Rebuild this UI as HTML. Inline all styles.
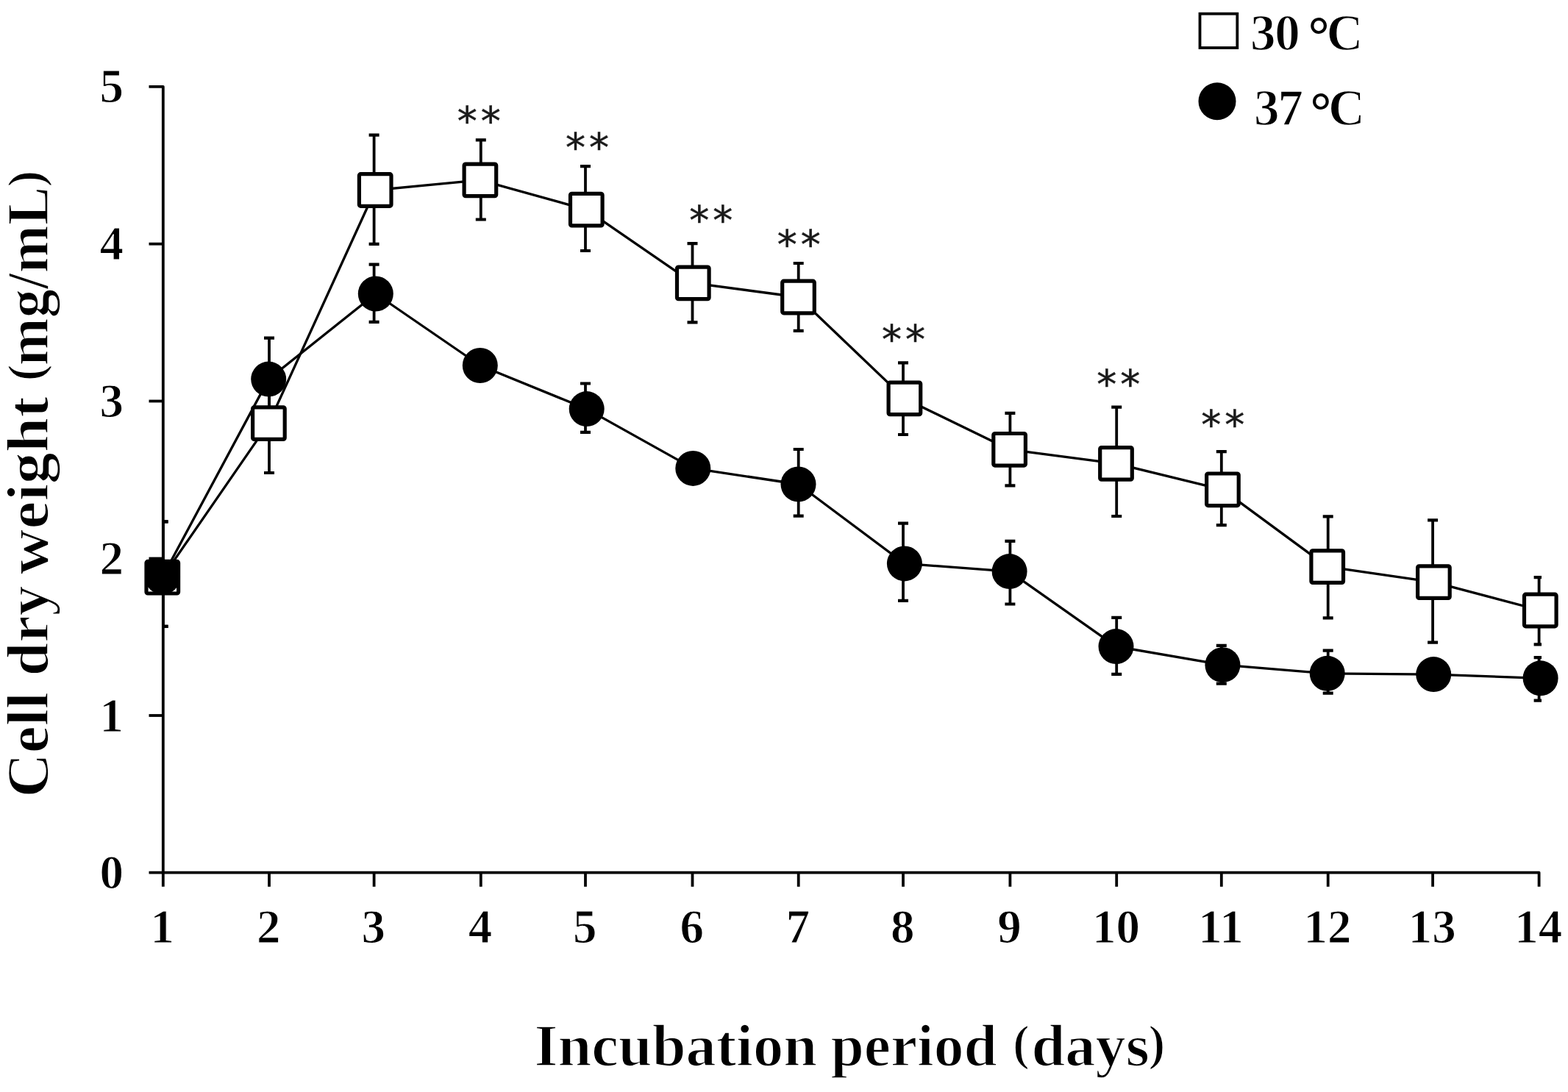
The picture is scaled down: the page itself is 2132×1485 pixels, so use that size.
<!DOCTYPE html>
<html><head><meta charset="utf-8"><title>Cell dry weight vs incubation period</title>
<style>html,body{margin:0;padding:0;background:#fff;}svg{display:block;}.t{font-family:"Liberation Serif",serif;font-weight:bold;fill:#000;}.lg{stroke:#fff;stroke-width:1.4px;}.ti{stroke:#fff;stroke-width:1.6px;}.tk{stroke:#fff;stroke-width:1.1px;}.dg{stroke:none;font-size:72px;}.s{font-family:"DejaVu Sans",sans-serif;fill:#1a1a1a;stroke:#1a1a1a;stroke-width:0.5px;}</style></head><body>
<svg width="2132" height="1485" viewBox="0 0 2132 1485">
<rect x="0" y="0" width="2132" height="1485" fill="#fff"/>
<g stroke="#000" stroke-width="3.8" fill="none" stroke-linecap="butt" stroke-linejoin="round">
<path d="M202.5 117.8 H221.8 V1205.8"/>
<path d="M202.5 973 H221.8"/>
<path d="M202.5 759.5 H221.8"/>
<path d="M202.5 545.5 H221.8"/>
<path d="M202.5 331.7 H221.8"/>
<path d="M202.5 1186.6 H2092.6 V1205.8"/>
<path d="M366 1186.6 V1205.8"/>
<path d="M508.6 1186.6 V1205.8"/>
<path d="M653.8 1186.6 V1205.8"/>
<path d="M796 1186.6 V1205.8"/>
<path d="M941.5 1186.6 V1205.8"/>
<path d="M1085.7 1186.6 V1205.8"/>
<path d="M1228 1186.6 V1205.8"/>
<path d="M1373.4 1186.6 V1205.8"/>
<path d="M1518.2 1186.6 V1205.8"/>
<path d="M1660.8 1186.6 V1205.8"/>
<path d="M1805.7 1186.6 V1205.8"/>
<path d="M1948.1 1186.6 V1205.8"/>
</g>
<g stroke="#000" stroke-width="3.3" fill="none" stroke-linejoin="round">
<path d="M220.8 785.2 L365.4 575.6 L510.2 258.5 L652.9 244.9 L797.3 285.1 L942.3 384.9 L1085.5 404 L1229.9 541.9 L1372.6 611.3 L1517.5 630.4 L1662.4 665.8 L1804.7 770.6 L1949.4 791.6 L2094.3 830"/>
<path d="M221 784.5 L365.2 515.6 L510.8 399.5 L652.8 497 L797.7 556.1 L942.3 636.9 L1085.5 658.5 L1229.9 766.4 L1372.6 777.1 L1517.5 879.1 L1662.4 904.2 L1804.7 915.8 L1949.2 917.1 L2094.6 922.3"/>
</g>
<defs><clipPath id="pa"><rect x="220.5" y="0" width="1875.5" height="1186"/></clipPath></defs>
<g clip-path="url(#pa)" stroke="#000" fill="none">
<path d="M221.6 709.4 V851.8" stroke-width="3.8"/>
<path d="M214.6 709.4 h14 M214.6 851.8 h14" stroke-width="4.2"/>
<path d="M366 508.2 V643" stroke-width="3.8"/>
<path d="M359 508.2 h14 M359 643 h14" stroke-width="4.2"/>
<path d="M508.6 183.6 V331.9" stroke-width="3.8"/>
<path d="M501.6 183.6 h14 M501.6 331.9 h14" stroke-width="4.2"/>
<path d="M653.8 190.4 V298.5" stroke-width="3.8"/>
<path d="M646.8 190.4 h14 M646.8 298.5 h14" stroke-width="4.2"/>
<path d="M796 226.2 V341" stroke-width="3.8"/>
<path d="M789 226.2 h14 M789 341 h14" stroke-width="4.2"/>
<path d="M941.5 331.2 V438.3" stroke-width="3.8"/>
<path d="M934.5 331.2 h14 M934.5 438.3 h14" stroke-width="4.2"/>
<path d="M1085.7 358 V449.9" stroke-width="3.8"/>
<path d="M1078.7 358 h14 M1078.7 449.9 h14" stroke-width="4.2"/>
<path d="M1228 493.4 V591" stroke-width="3.8"/>
<path d="M1221 493.4 h14 M1221 591 h14" stroke-width="4.2"/>
<path d="M1373.4 561.8 V660.3" stroke-width="3.8"/>
<path d="M1366.4 561.8 h14 M1366.4 660.3 h14" stroke-width="4.2"/>
<path d="M1518.2 553.7 V702" stroke-width="3.8"/>
<path d="M1511.2 553.7 h14 M1511.2 702 h14" stroke-width="4.2"/>
<path d="M1660.8 614.1 V714.1" stroke-width="3.8"/>
<path d="M1653.8 614.1 h14 M1653.8 714.1 h14" stroke-width="4.2"/>
<path d="M1805.7 702.3 V840.4" stroke-width="3.8"/>
<path d="M1798.7 702.3 h14 M1798.7 840.4 h14" stroke-width="4.2"/>
<path d="M1948.1 707.3 V873.6" stroke-width="3.8"/>
<path d="M1941.1 707.3 h14 M1941.1 873.6 h14" stroke-width="4.2"/>
<path d="M2092.6 785.2 V876.4" stroke-width="3.8"/>
<path d="M2085.6 785.2 h14 M2085.6 876.4 h14" stroke-width="4.2"/>
<path d="M221.6 709.4 V851.8" stroke-width="3.8"/>
<path d="M214.6 709.4 h14 M214.6 851.8 h14" stroke-width="4.2"/>
<path d="M366 459.7 V571.5" stroke-width="3.8"/>
<path d="M359 459.7 h14 M359 571.5 h14" stroke-width="4.2"/>
<path d="M508.6 359.6 V437.9" stroke-width="3.8"/>
<path d="M501.6 359.6 h14 M501.6 437.9 h14" stroke-width="4.2"/>
<path d="M653.8 480 V514" stroke-width="3.8"/>
<path d="M646.8 480 h14 M646.8 514 h14" stroke-width="4.2"/>
<path d="M796 521.5 V587.8" stroke-width="3.8"/>
<path d="M789 521.5 h14 M789 587.8 h14" stroke-width="4.2"/>
<path d="M941.5 620 V654" stroke-width="3.8"/>
<path d="M934.5 620 h14 M934.5 654 h14" stroke-width="4.2"/>
<path d="M1085.7 611 V701.6" stroke-width="3.8"/>
<path d="M1078.7 611 h14 M1078.7 701.6 h14" stroke-width="4.2"/>
<path d="M1228 711.7 V816.9" stroke-width="3.8"/>
<path d="M1221 711.7 h14 M1221 816.9 h14" stroke-width="4.2"/>
<path d="M1373.4 735.8 V821.5" stroke-width="3.8"/>
<path d="M1366.4 735.8 h14 M1366.4 821.5 h14" stroke-width="4.2"/>
<path d="M1518.2 839.8 V916.9" stroke-width="3.8"/>
<path d="M1511.2 839.8 h14 M1511.2 916.9 h14" stroke-width="4.2"/>
<path d="M1660.8 877.8 V929.7" stroke-width="3.8"/>
<path d="M1653.8 877.8 h14 M1653.8 929.7 h14" stroke-width="4.2"/>
<path d="M1805.7 884.7 V942.6" stroke-width="3.8"/>
<path d="M1798.7 884.7 h14 M1798.7 942.6 h14" stroke-width="4.2"/>
<path d="M1948.1 900 V934" stroke-width="3.8"/>
<path d="M1941.1 900 h14 M1941.1 934 h14" stroke-width="4.2"/>
<path d="M2092.6 894.2 V952.7" stroke-width="3.8"/>
<path d="M2085.6 894.2 h14 M2085.6 952.7 h14" stroke-width="4.2"/>
</g>
<g stroke="#000" stroke-width="5.2" fill="#fff" stroke-linejoin="round">
<rect x="199" y="763.4" width="43.6" height="43.6" rx="2"/>
<rect x="343.6" y="553.8" width="43.6" height="43.6" rx="2"/>
<rect x="488.4" y="236.7" width="43.6" height="43.6" rx="2"/>
<rect x="631.1" y="223.1" width="43.6" height="43.6" rx="2"/>
<rect x="775.5" y="263.3" width="43.6" height="43.6" rx="2"/>
<rect x="920.5" y="363.1" width="43.6" height="43.6" rx="2"/>
<rect x="1063.7" y="382.2" width="43.6" height="43.6" rx="2"/>
<rect x="1208.1" y="520.1" width="43.6" height="43.6" rx="2"/>
<rect x="1350.8" y="589.5" width="43.6" height="43.6" rx="2"/>
<rect x="1495.7" y="608.6" width="43.6" height="43.6" rx="2"/>
<rect x="1640.6" y="644" width="43.6" height="43.6" rx="2"/>
<rect x="1782.9" y="748.8" width="43.6" height="43.6" rx="2"/>
<rect x="1927.6" y="769.8" width="43.6" height="43.6" rx="2"/>
<rect x="2072.5" y="808.2" width="43.6" height="43.6" rx="2"/>
</g>
<rect x="199" y="763.4" width="43.6" height="22" fill="#000"/>
<g fill="#000">
<circle cx="221" cy="784.5" r="24"/>
<circle cx="365.2" cy="515.6" r="24"/>
<circle cx="510.8" cy="399.5" r="24"/>
<circle cx="652.8" cy="497" r="24"/>
<circle cx="797.7" cy="556.1" r="24"/>
<circle cx="942.3" cy="636.9" r="24"/>
<circle cx="1085.5" cy="658.5" r="24"/>
<circle cx="1229.9" cy="766.4" r="24"/>
<circle cx="1372.6" cy="777.1" r="24"/>
<circle cx="1517.5" cy="879.1" r="24"/>
<circle cx="1662.4" cy="904.2" r="24"/>
<circle cx="1804.7" cy="915.8" r="24"/>
<circle cx="1949.2" cy="917.1" r="24"/>
<circle cx="2094.6" cy="922.3" r="24"/>
</g>
<text class="s" x="621.8" y="182.5" font-size="54" letter-spacing="5">**</text>
<text class="s" x="769" y="218.7" font-size="54" letter-spacing="5">**</text>
<text class="s" x="937.3" y="317.8" font-size="54" letter-spacing="5">**</text>
<text class="s" x="1056.7" y="351.4" font-size="54" letter-spacing="5">**</text>
<text class="s" x="1199" y="480" font-size="54" letter-spacing="5">**</text>
<text class="s" x="1491.3" y="541.2" font-size="54" letter-spacing="5">**</text>
<text class="s" x="1633.2" y="596.2" font-size="54" letter-spacing="5">**</text>
<text class="t tk" x="168" y="1208.2" font-size="65" text-anchor="end">0</text>
<text class="t tk" x="168" y="994.6" font-size="65" text-anchor="end">1</text>
<text class="t tk" x="168" y="781.1" font-size="65" text-anchor="end">2</text>
<text class="t tk" x="168" y="567.1" font-size="65" text-anchor="end">3</text>
<text class="t tk" x="168" y="353.3" font-size="65" text-anchor="end">4</text>
<text class="t tk" x="168" y="139.4" font-size="65" text-anchor="end">5</text>
<text class="t tk" x="220.8" y="1282.3" font-size="65" text-anchor="middle">1</text>
<text class="t tk" x="365.2" y="1282.3" font-size="65" text-anchor="middle">2</text>
<text class="t tk" x="507.8" y="1282.3" font-size="65" text-anchor="middle">3</text>
<text class="t tk" x="653" y="1282.3" font-size="65" text-anchor="middle">4</text>
<text class="t tk" x="795.2" y="1282.3" font-size="65" text-anchor="middle">5</text>
<text class="t tk" x="940.7" y="1282.3" font-size="65" text-anchor="middle">6</text>
<text class="t tk" x="1084.9" y="1282.3" font-size="65" text-anchor="middle">7</text>
<text class="t tk" x="1227.2" y="1282.3" font-size="65" text-anchor="middle">8</text>
<text class="t tk" x="1372.6" y="1282.3" font-size="65" text-anchor="middle">9</text>
<text class="t tk" x="1517.4" y="1282.3" font-size="65" text-anchor="middle">10</text>
<text class="t tk" x="1660" y="1282.3" font-size="65" text-anchor="middle">11</text>
<text class="t tk" x="1804.9" y="1282.3" font-size="65" text-anchor="middle">12</text>
<text class="t tk" x="1947.3" y="1282.3" font-size="65" text-anchor="middle">13</text>
<text class="t tk" x="2091.8" y="1282.3" font-size="65" text-anchor="middle">14</text>
<text class="t ti" font-size="80"><tspan x="726.42" y="1448.8" textLength="384.62" lengthAdjust="spacingAndGlyphs">Incubation</tspan> <tspan x="1129.47" y="1448.8" textLength="226.35" lengthAdjust="spacingAndGlyphs">period</tspan> <tspan x="1377.1" y="1440.8" font-size="68.5">(</tspan><tspan x="1402.46" y="1448.8" textLength="160.46" lengthAdjust="spacingAndGlyphs">days</tspan><tspan x="1561.6" y="1441" font-size="68.5">)</tspan></text>
<g transform="translate(65.3 1080.4) rotate(-90)">
<text class="t ti" font-size="80"><tspan x="-4.07" y="0" textLength="143.39" lengthAdjust="spacingAndGlyphs">Cell</tspan> <tspan x="161.18" y="0" textLength="122.92" lengthAdjust="spacingAndGlyphs">dry</tspan> <tspan x="299.25" y="0" textLength="241.83" lengthAdjust="spacingAndGlyphs">weight</tspan> <tspan x="562.1" y="-8" font-size="68.5">(</tspan><tspan x="582.9" y="0" textLength="243.59" lengthAdjust="spacingAndGlyphs">mg/mL</tspan><tspan x="826.0" y="-8" font-size="68.5">)</tspan></text>
</g>
<rect x="1631.5" y="18.7" width="50.8" height="46.3" fill="#fff" stroke="#000" stroke-width="3.8"/>
<circle cx="1655" cy="137.8" r="25.5" fill="#000"/>
<text class="t lg" y="67.6" font-size="69"><tspan x="1699.9 1733.2 1760">30 </tspan><tspan class="dg" x="1778.8" y="72">°</tspan><tspan x="1803.6" y="67.6">C</tspan></text>
<text class="t lg" y="170.3" font-size="69"><tspan x="1705 1737.5 1765">37 </tspan><tspan class="dg" x="1781.4" y="174.6">°</tspan><tspan x="1806" y="170.3">C</tspan></text>
</svg></body></html>
